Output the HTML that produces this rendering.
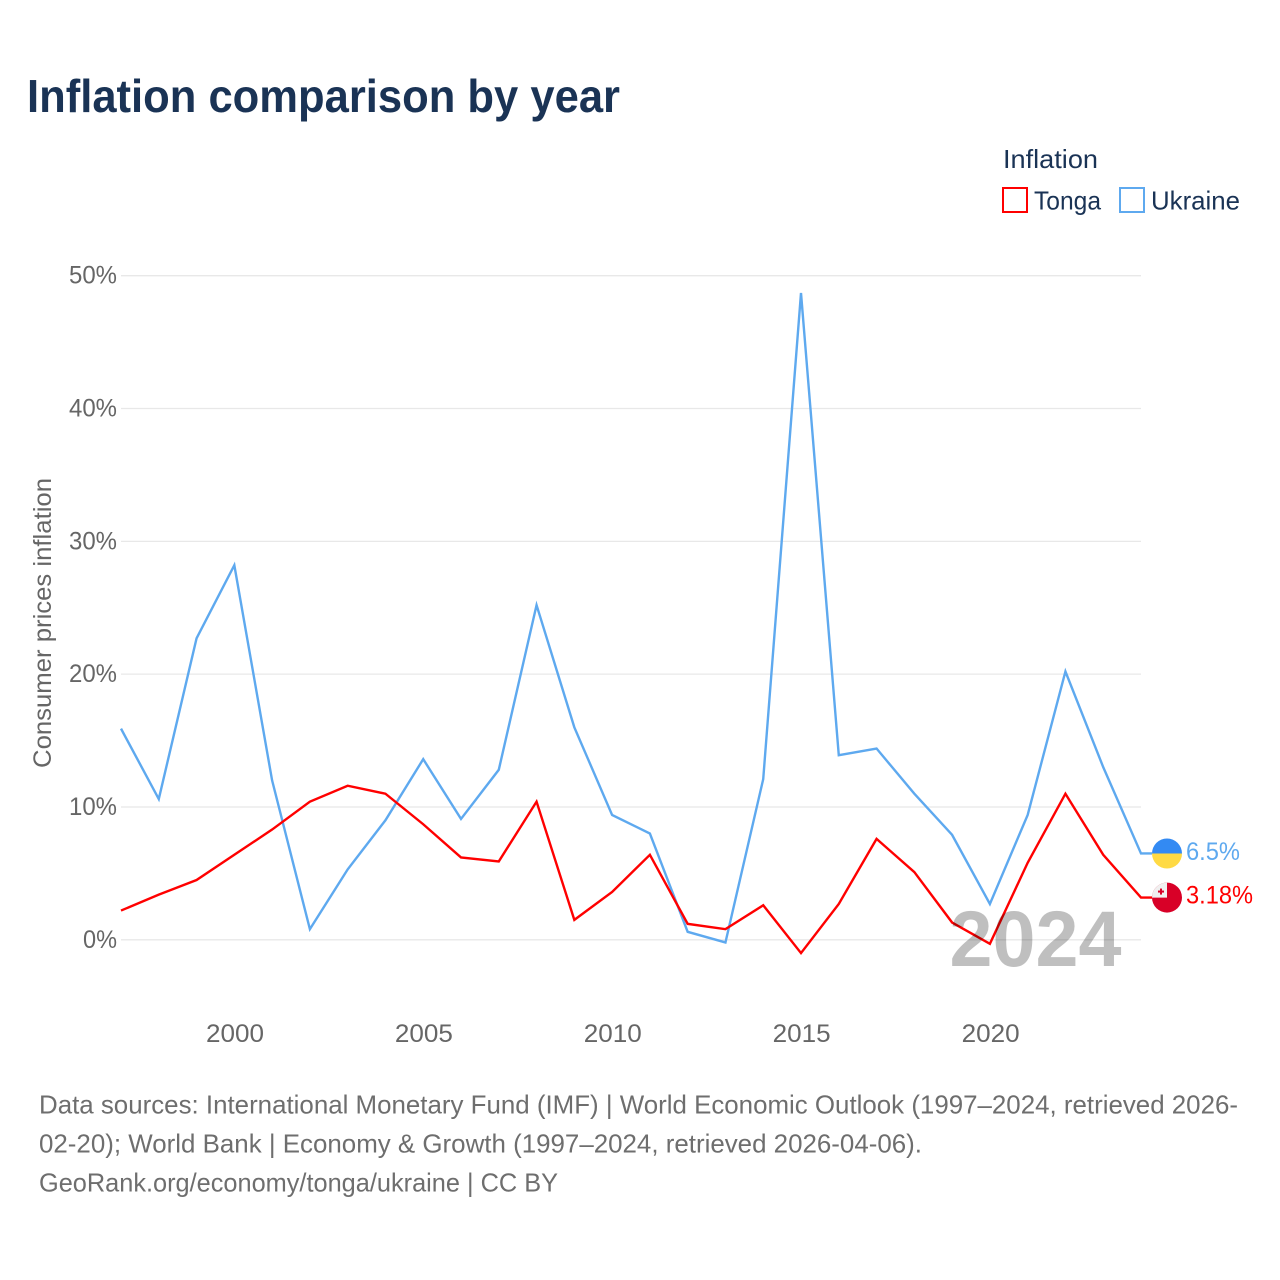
<!DOCTYPE html>
<html lang="en">
<head>
<meta charset="utf-8">
<title>Inflation comparison by year</title>
<style>
html,body{margin:0;padding:0;background:#fff;width:1280px;height:1280px;overflow:hidden}
svg{display:block;font-family:"Liberation Sans",sans-serif}
</style>
</head>
<body>
<svg id="chart" width="1280" height="1280" viewBox="0 0 1280 1280" xmlns="http://www.w3.org/2000/svg">
  <text x="27" y="112" font-size="46" font-weight="700" fill="#1a3355" textLength="593" lengthAdjust="spacingAndGlyphs">Inflation comparison by year</text>

  <g>
    <text x="1003" y="168" font-size="26" fill="#1a3355" textLength="95" lengthAdjust="spacingAndGlyphs">Inflation</text>
    <rect x="1003" y="188" width="24" height="24" fill="none" stroke="#ff0000" stroke-width="2"/>
    <text x="1034" y="209.5" font-size="26" fill="#1a3355" textLength="67" lengthAdjust="spacingAndGlyphs">Tonga</text>
    <rect x="1120" y="188" width="24" height="24" fill="none" stroke="#5ea9ef" stroke-width="2"/>
    <text x="1151" y="209.5" font-size="26" fill="#1a3355" textLength="89" lengthAdjust="spacingAndGlyphs">Ukraine</text>
  </g>

  <text transform="translate(51 623) rotate(-90)" text-anchor="middle" font-size="25" fill="#666666" textLength="290" lengthAdjust="spacingAndGlyphs">Consumer prices inflation</text>

  <g id="grid"></g>
  <g id="yticks"></g>
  <g id="xticks"></g>
  <g id="series"></g>

  <text x="1035.5" y="966" text-anchor="middle" font-size="79" font-weight="700" fill="#000000" fill-opacity="0.25" textLength="172" lengthAdjust="spacingAndGlyphs">2024</text>

  <g>
    <g id="flagU"></g>
    <g id="flagT"></g>
    <text id="labelU" x="1186" font-size="25" fill="#5ea9ef" textLength="54" lengthAdjust="spacingAndGlyphs"></text>
    <text id="labelT" x="1186" font-size="25" fill="#ff0000" textLength="67" lengthAdjust="spacingAndGlyphs"></text>
  </g>

  <g font-size="26" fill="#6e6e6e">
    <text x="39" y="1113.5" textLength="1199" lengthAdjust="spacingAndGlyphs">Data sources: International Monetary Fund (IMF) | World Economic Outlook (1997–2024, retrieved 2026-</text>
    <text x="39" y="1152.5" textLength="883" lengthAdjust="spacingAndGlyphs">02-20); World Bank | Economy &amp; Growth (1997–2024, retrieved 2026-04-06).</text>
    <text x="39" y="1191.5" textLength="519" lengthAdjust="spacingAndGlyphs">GeoRank.org/economy/tonga/ukraine | CC BY</text>
  </g>
</svg>
<script>
const years = [1997,1998,1999,2000,2001,2002,2003,2004,2005,2006,2007,2008,2009,2010,2011,2012,2013,2014,2015,2016,2017,2018,2019,2020,2021,2022,2023,2024];
const tonga = [2.2,3.4,4.5,6.4,8.3,10.4,11.6,11.0,8.7,6.2,5.9,10.4,1.5,3.6,6.4,1.2,0.8,2.6,-1.0,2.7,7.6,5.1,1.3,-0.3,5.8,11.0,6.4,3.18];
const ukraine = [15.9,10.6,22.7,28.2,12.0,0.8,5.3,9.0,13.6,9.1,12.8,25.2,16.0,9.4,8.0,0.6,-0.2,12.1,48.7,13.9,14.4,11.0,7.9,2.7,9.4,20.2,13.0,6.5];
const yTicks = [0,10,20,30,40,50];
const xTicks = [2000,2005,2010,2015,2020];
const tongaLabel = "3.18%";
const ukraineLabel = "6.5%";

const NS = "http://www.w3.org/2000/svg";
const xScale = function (yr) { return 121 + (yr - 1997) * (1141 - 121) / (2024 - 1997); };
const yScale = function (v) { return 939.8 - v * 13.282; };
function make(tag, attrs, parent) {
  const el = document.createElementNS(NS, tag);
  for (const k in attrs) el.setAttribute(k, attrs[k]);
  parent.appendChild(el);
  return el;
}
const gridG = document.getElementById("grid");
const yG = document.getElementById("yticks");
const xG = document.getElementById("xticks");
const seriesG = document.getElementById("series");

yTicks.forEach(function (t) {
  const line = make("line", {x1: 121, x2: 1141, y1: yScale(t), y2: yScale(t), stroke: "#e8e8e8", "stroke-width": 1.3}, gridG);
  
  
  const label = make("text", {x: 117, y: yScale(t) + 8, "text-anchor": "end", "font-size": 25, fill: "#666666", textLength: t === 0 ? 34 : 48, lengthAdjust: "spacingAndGlyphs"}, yG);
  
  
  label.textContent = t + "%";
});
xTicks.forEach(function (t) {
  const label = make("text", {x: xScale(t) + 0.7, y: 1042, "text-anchor": "middle", "font-size": 25, fill: "#666666", textLength: 58, lengthAdjust: "spacingAndGlyphs"}, xG);
  
  
  label.textContent = t;
});
function pathFor(vals) {
  let d = vals.map(function (v, i) { return (i ? "L" : "M") + xScale(years[i]).toFixed(2) + " " + yScale(v).toFixed(2); }).join(" ");
  d += " L1152 " + yScale(vals[vals.length - 1]).toFixed(2);
  return d;
}
const ukrLine = make("path", {d: pathFor(ukraine), fill: "none", stroke: "#5ea9ef", "stroke-width": 2.4, "stroke-linejoin": "miter"}, seriesG);


const tonLine = make("path", {d: pathFor(tonga), fill: "none", stroke: "#ff0000", "stroke-width": 2.4, "stroke-linejoin": "miter"}, seriesG);



const uy = yScale(ukraine[ukraine.length - 1]);
const ty = yScale(tonga[tonga.length - 1]);
const cx = 1167, r = 15;
const flagU = document.getElementById("flagU");
const flagT = document.getElementById("flagT");
make("path", {d: "M" + (cx - r) + " " + uy + " A" + r + " " + r + " 0 0 1 " + (cx + r) + " " + uy + " Z", fill: "#338af3"}, flagU);
make("path", {d: "M" + (cx - r) + " " + uy + " A" + r + " " + r + " 0 0 0 " + (cx + r) + " " + uy + " Z", fill: "#ffda44"}, flagU);
make("circle", {cx: cx, cy: ty, r: r, fill: "#d80027"}, flagT);
make("path", {d: "M" + cx + " " + ty + " H" + (cx - r) + " A" + r + " " + r + " 0 0 1 " + cx + " " + (ty - r) + " Z", fill: "#f0f0f0"}, flagT);
make("rect", {x: cx - 9, y: ty - 7, width: 6, height: 2, fill: "#d80027"}, flagT);
make("rect", {x: cx - 7, y: ty - 9, width: 2, height: 6, fill: "#d80027"}, flagT);

const lu = document.getElementById("labelU");
lu.setAttribute("y", uy + 6.5);
lu.textContent = ukraineLabel;
const lt = document.getElementById("labelT");
lt.setAttribute("y", ty + 6);
lt.textContent = tongaLabel;
</script>
</body>
</html>
